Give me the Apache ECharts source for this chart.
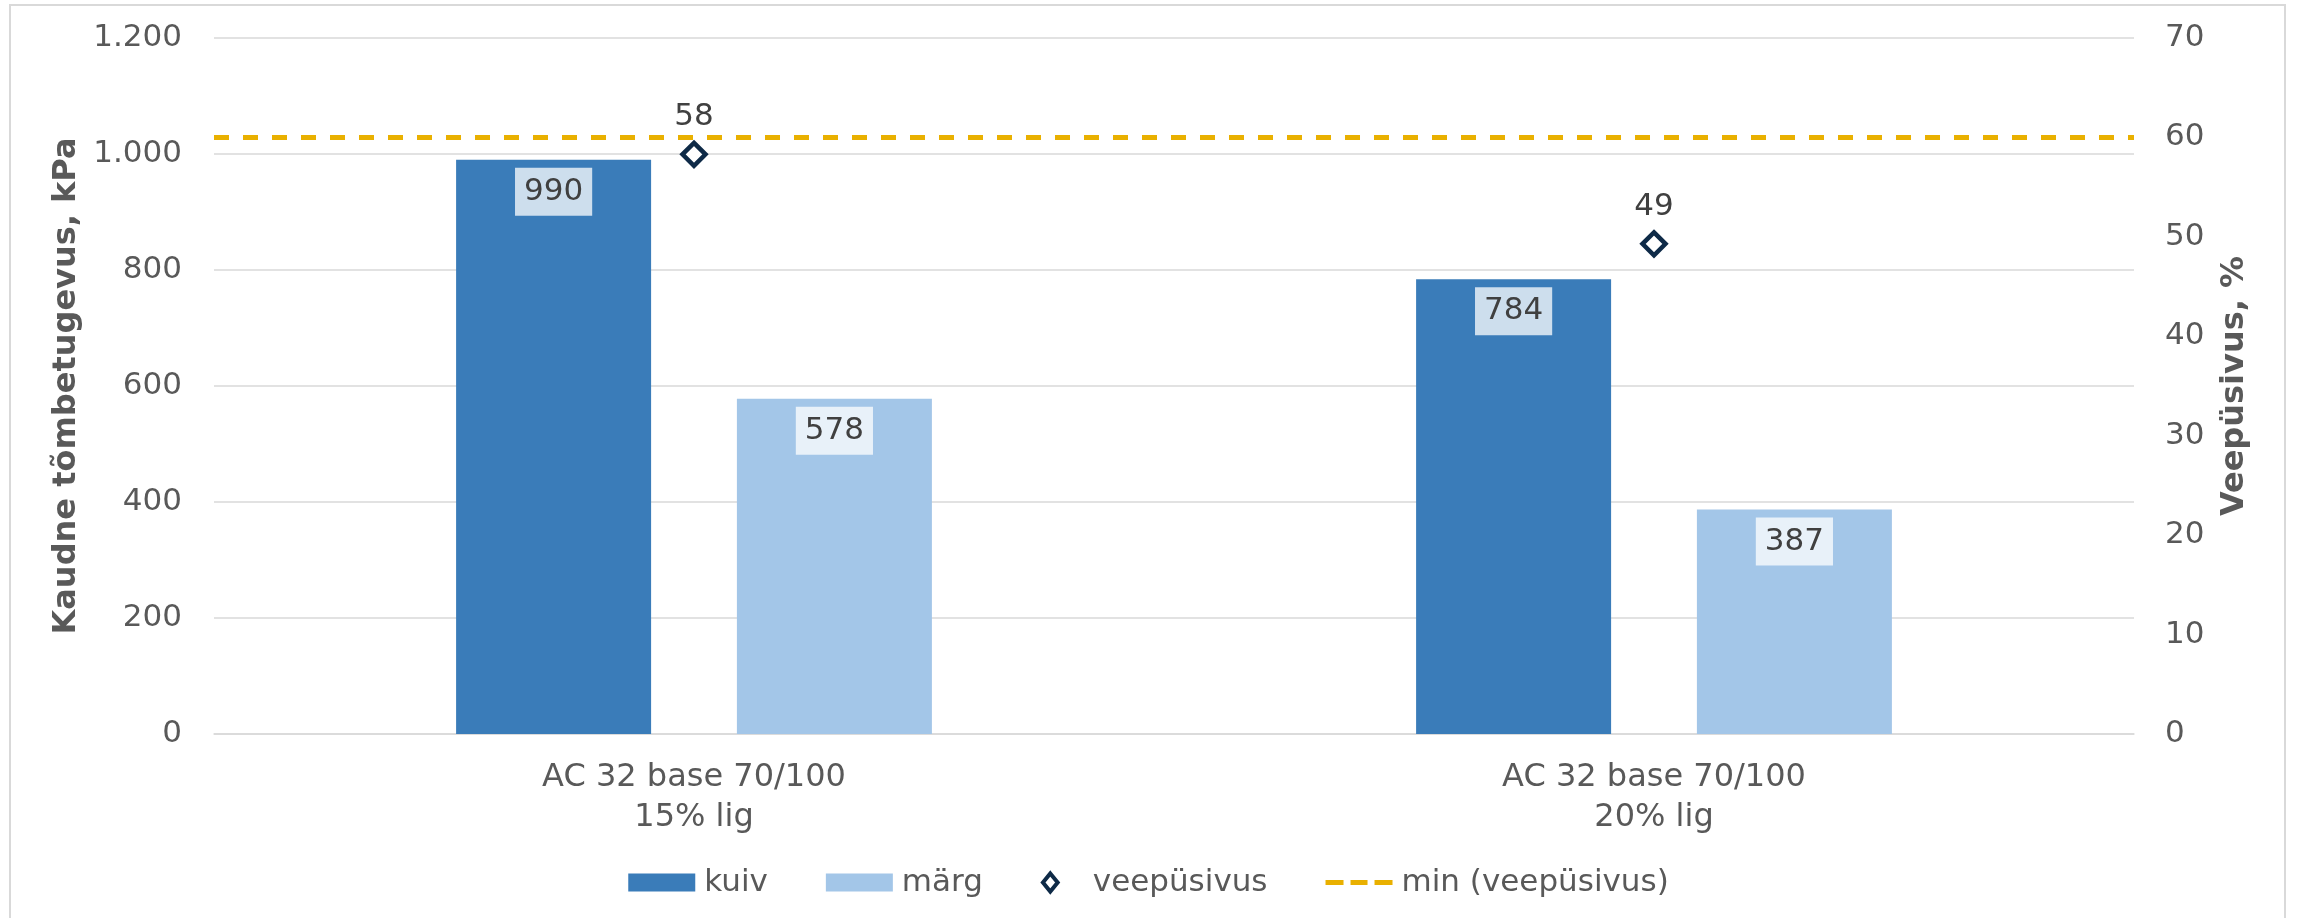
<!DOCTYPE html>
<html>
<head>
<meta charset="utf-8">
<script src="https://cdn.jsdelivr.net/npm/echarts@6/dist/echarts.min.js"></script>
<style>
html, body { margin: 0; padding: 0; background: #fff; }
#chart { width: 2297px; height: 918px; }
</style>
</head>
<body>
<div id="chart"></div>
<script>
// andmed
var categories = ['AC 32 base 70/100\n15% lig', 'AC 32 base 70/100\n20% lig'];
var kuiv = [990, 784];
var marg = [578, 387];
var veepusivus = [58.3, 49.3];
var minVeepusivus = 60;
var leftTicks = { min: 0, max: 1200, step: 200 };
var rightTicks = { min: 0, max: 70, step: 10 };

var font = 'DejaVu Sans';
var grey = '#595959';
var dark = '#404040';
var navy = '#0E2A47';
var orange = '#E9B000';

function thousands(v) {
	return String(v).replace(/\B(?=(\d{3})+(?!\d))/g, '.');
}

var barLabel = {
	show: true,
	position: 'insideTop',
	distance: 8,
	color: dark,
	fontFamily: font,
	fontSize: 31,
	lineHeight: 32,
	backgroundColor: 'rgba(255,255,255,0.75)',
	padding: [8, 9, 8, 9]
};

var myChart = echarts.init(document.getElementById('chart'));
var option = {
	animation: false,
	textStyle: { fontFamily: font },
	graphic: [{
		type: 'rect',
		shape: { x: 10, y: 5, width: 2275, height: 930 },
		style: { fill: 'none', stroke: '#d9d9d9', lineWidth: 2 },
		silent: true
	}],
	grid: { left: 214, right: 163, top: 38, bottom: 184 },
	legend: {
		left: 'center',
		top: 862,
		icon: 'rect',
		symbolKeepAspect: true,
		itemWidth: 67,
		itemHeight: 18,
		itemGap: 58,
		textStyle: { color: grey, fontFamily: font, fontSize: 31, padding: [0, 0, 0, 4] },
		data: [
			'kuiv',
			'märg',
			{
				name: 'veepüsivus',
				icon: 'path://M0,-11L9,0L0,11L-9,0Z',
				symbolKeepAspect: true,
				itemStyle: { color: '#ffffff', borderColor: navy, borderWidth: 4 }
			},
			{
				name: 'min (veepüsivus)',
				icon: 'path://M0,0h18v5h-18zM25,0h17v5h-17zM49,0h18v5h-18z',
				symbolKeepAspect: true,
				itemStyle: { color: orange, borderWidth: 0 }
			}
		]
	},
	xAxis: {
		type: 'category',
		data: categories,
		axisTick: { show: false },
		axisLine: { lineStyle: { color: '#d9d9d9', width: 1.5 } },
		axisLabel: { color: grey, fontFamily: font, fontSize: 32, lineHeight: 40, margin: 24 }
	},
	yAxis: [
		{
			type: 'value',
			min: leftTicks.min, max: leftTicks.max, interval: leftTicks.step,
			name: 'Kaudne tõmbetugevus, kPa',
			nameLocation: 'middle',
			nameRotate: 90,
			nameGap: 130,
			nameTextStyle: { color: grey, fontFamily: font, fontSize: 32, fontWeight: 'bold' },
			axisLine: { show: false },
			axisTick: { show: false },
			axisLabel: { color: grey, fontFamily: font, fontSize: 31, margin: 32, formatter: thousands },
			splitLine: { lineStyle: { color: '#d9d9d9', width: 1.5 } }
		},
		{
			type: 'value',
			position: 'right',
			min: rightTicks.min, max: rightTicks.max, interval: rightTicks.step,
			name: 'Veepüsivus, %',
			nameLocation: 'middle',
			nameRotate: 90,
			nameGap: 85,
			nameTextStyle: { color: grey, fontFamily: font, fontSize: 32, fontWeight: 'bold' },
			axisLine: { show: false },
			axisTick: { show: false },
			axisLabel: { color: grey, fontFamily: font, fontSize: 31, margin: 31 },
			splitLine: { show: false }
		}
	],
	series: [
		{
			name: 'kuiv',
			type: 'bar',
			data: kuiv,
			barWidth: 195,
			barGap: '44%',
			itemStyle: { color: '#3A7CB9' },
			label: barLabel
		},
		{
			name: 'märg',
			type: 'bar',
			data: marg,
			barWidth: 195,
			barGap: '44%',
			itemStyle: { color: '#A3C6E8' },
			label: barLabel
		},
		{
			name: 'veepüsivus',
			type: 'scatter',
			yAxisIndex: 1,
			data: veepusivus,
			symbol: 'diamond',
			symbolSize: 23,
			itemStyle: { color: '#ffffff', borderColor: navy, borderWidth: 4.5, opacity: 1 },
			label: {
				show: true,
				position: 'top',
				distance: 8,
				color: dark,
				fontFamily: font,
				fontSize: 31,
				formatter: function (p) { return Math.round(p.value); }
			},
			z: 5
		},
		{
			name: 'min (veepüsivus)',
			type: 'line',
			yAxisIndex: 1,
			data: [],
			symbol: 'none',
			itemStyle: { color: orange },
			lineStyle: { color: orange, width: 5, type: [15, 14] },
			markLine: {
				silent: true,
				symbol: 'none',
				label: { show: false },
				lineStyle: { color: orange, width: 5, type: [15, 14] },
				data: [{ yAxis: minVeepusivus }]
			}
		}
	]
};
myChart.setOption(option);
</script>
</body>
</html>
